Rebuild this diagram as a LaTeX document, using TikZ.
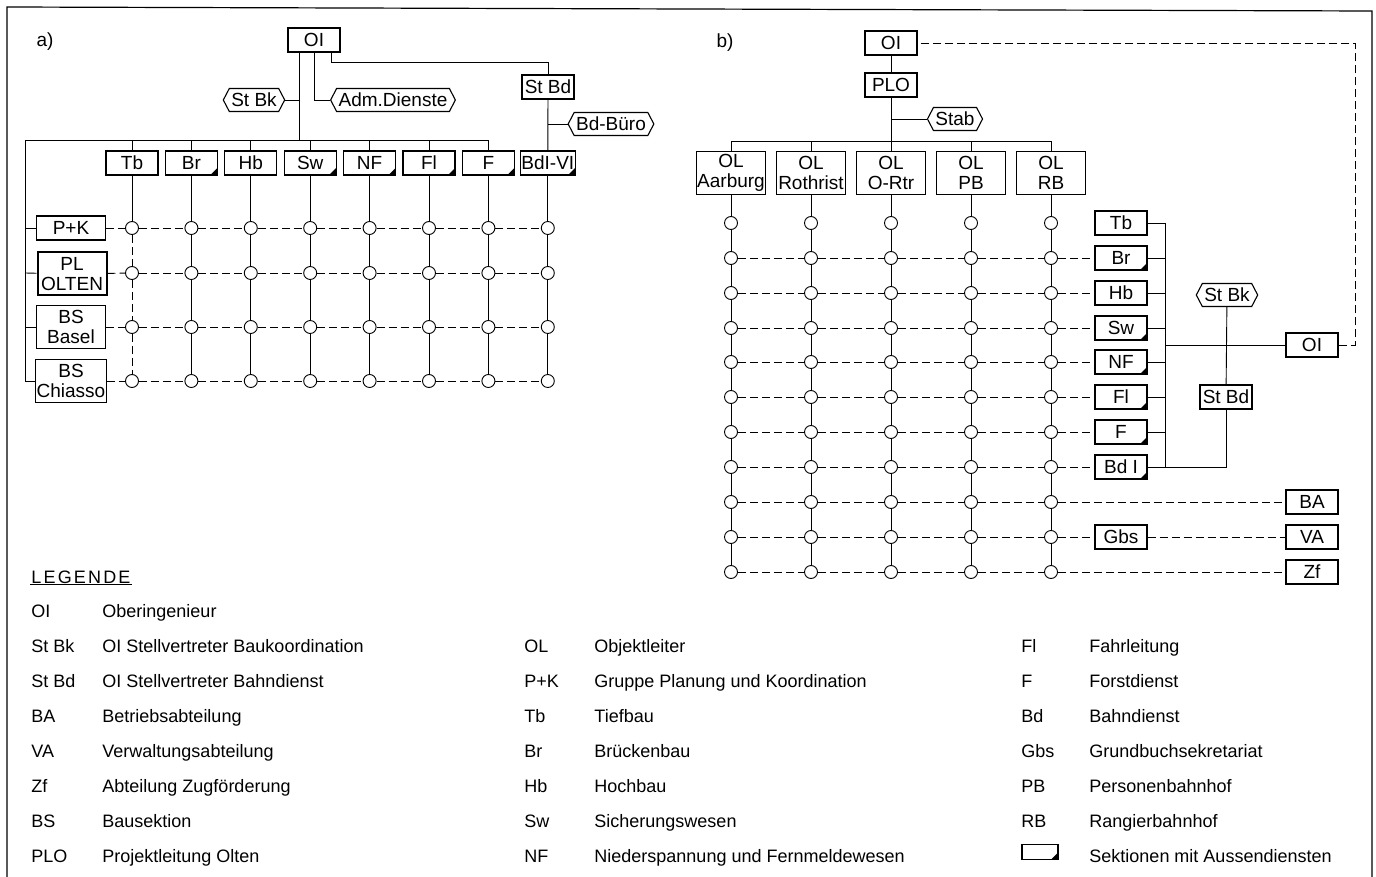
\documentclass[tikz,border=0pt]{standalone}
\usepackage{fontspec}
\setmainfont{Liberation Sans}
\usetikzlibrary{shapes.symbols}
\newcommand{\orgfont}{\fontsize{18}{20}\selectfont}
\newcommand{\boxfont}{\fontsize{19}{20}\selectfont}

\begin{document}
\begin{tikzpicture}[
 x=1pt, y=-1pt, font=\orgfont, line width=0.9pt,
 box/.style={draw, line width=1.1pt, fill=white, align=center, inner sep=1pt, minimum width=52pt, minimum height=24pt, font=\boxfont},
 tallbox/.style={box, minimum width=69pt, minimum height=43pt},
 leitung/.style={line width=2pt},
 plain/.style={},
 aussen/.style={path picture={\fill[black] ([xshift=-7pt]path picture bounding box.south east) -- (path picture bounding box.south east) -- ([yshift=7pt]path picture bounding box.south east) -- cycle;}},
 stab/.style={draw, line width=1.1pt, fill=white, shape=signal, signal to=west and east, signal pointer angle=125, inner sep=2pt, minimum height=23pt, font=\boxfont},
 knot/.style={draw, circle, fill=white, inner sep=0pt, minimum size=13pt},
 link/.style={dash pattern=on 8pt off 4pt},
 legk/.style={anchor=base west, inner sep=0pt}]
\useasboundingbox (0,0) rectangle (1376,877);
\draw[line width=1.2pt] (7,877) -- (7,7) -- (1372,11) -- (1372,877);

% a) Organisation
\node[font=\boxfont] (alabel) at (45,42) {a)};
\node[box] (aOI) at (314,40) {OI};
\node[stab] (aStBk) at (254,100) {St Bk};
\node[stab] (aAdm) at (393,100) {Adm.Dienste};
\node[box] (aStBd) at (548,87) {St Bd};
\node[stab] (aBuero) at (611,124) {Bd-Büro};
\foreach \nm/\txt/\st [count=\i] in {Tb/Tb/plain, Br/Br/aussen, Hb/Hb/plain, Sw/Sw/aussen, NF/NF/aussen, Fl/Fl/aussen, F/F/aussen, Bd/BdI-VI/aussen}
  \node[box,\st] (a\nm) at ({132+59.4*(\i-1)},163) {\txt};
\node[box, minimum width=69pt] (aPK) at (71,228) {P+K};
\node[tallbox, leitung] (aPL) at (72,274) {PL\\OLTEN};
\node[tallbox] (aBSB) at (71,327) {BS\\Basel};
\node[tallbox] (aBSC) at (71,381) {BS\\Chiasso};
\foreach \y [count=\j] in {228,273,327,381}
  \foreach \i in {1,...,8}
    \node[knot] (a-\i-\j) at ({132+59.4*(\i-1)},\y) {};

\coordinate (aL) at (25,140);
\coordinate (aj) at (299,140);
\coordinate (aStk) at (548,62);
\draw (aOI.south -| aj) -- (aj);
\draw (aL) -- (aF.north |- aL);
\draw (aL) -- (aL |- aBSC);
\draw (aStBk.east) -- (aStBk.east -| aj);
\draw (aOI.south) |- (aAdm.west);
\draw ([xshift=17pt]aOI.south) |- (aStk) -- (aStBd.north);
\draw (aStBd) -- (aBd);
\draw (aStBd.south |- aBuero) -- (aBuero.west);
\foreach \nm in {Tb,Br,Hb,Sw,NF,Fl,F}
  \draw (a\nm.north) -- (a\nm.north |- aL);
\foreach \nm [count=\i] in {Tb,Br,Hb,Sw,NF,Fl,F,Bd}
  \draw (a\nm) -- (a-\i-1);
\foreach \i in {2,...,8}
  \foreach \j/\k in {1/2,2/3,3/4}
    \draw (a-\i-\j) -- (a-\i-\k);
\foreach \j/\k in {1/2,2/3,3/4}
  \draw[link] (a-1-\j) -- (a-1-\k);
\foreach \r [count=\j] in {PK,PL,BSB,BSC} {
  \draw (aL |- a-1-\j) -- (a\r);
  \draw[link] (a\r) -- (a-1-\j);
  \foreach \i/\k in {1/2,2/3,3/4,4/5,5/6,6/7,7/8}
    \draw[link] (a-\i-\j) -- (a-\k-\j);
}

% b) Projektleitung
\node[font=\boxfont] (blabel) at (725,43) {b)};
\node[box] (bOI) at (891,43) {OI};
\node[box, leitung] (bPLO) at (891,85) {PLO};
\node[stab] (bStab) at (955,119) {Stab};
\foreach \txt [count=\i] in {Aarburg,Rothrist,O-Rtr,PB,RB}
  \node[tallbox] (bOL\i) at ({731+80*(\i-1)},173) {OL\\\txt};
\foreach \y [count=\j] in {223,258,293,328,362,397,432,467,502,537,572}
  \foreach \i in {1,...,5}
    \node[knot] (b-\i-\j) at ({731+80*(\i-1)},\y) {};
\foreach \nm/\txt/\st [count=\j] in {Tb/Tb/plain, Br/Br/aussen, Hb/Hb/plain, Sw/Sw/aussen, NF/NF/aussen, Fl/Fl/aussen, F/F/aussen, Bd/Bd I/aussen}
  \node[box,\st] (b\nm) at (b-5-\j -| 1121,0) {\txt};
\node[box] (bGbs) at (1121,537) {Gbs};
\node[box] (bOIr) at (1312,345) {OI};
\node[box] (bBA) at (1312,502) {BA};
\node[box] (bVA) at (1312,537) {VA};
\node[box] (bZf) at (1312,572) {Zf};
\node[stab] (bStBk) at (1227,295) {St Bk};
\node[box] (bStBd) at (1226,397) {St Bd};

\coordinate (bj) at (891,141);
\coordinate (bk) at (1165,223);
\coordinate (bdr) at (1355,43);
\draw (bOI) -- (bPLO);
\draw (bPLO.south) -- (bj);
\draw (bPLO.south |- bStab) -- (bStab.west);
\draw (bOL1.north |- bj) -- (bOL5.north |- bj);
\foreach \i in {1,...,5} {
  \draw (bOL\i.north) -- (bOL\i.north |- bj);
  \draw (bOL\i) -- (b-\i-1);
  \foreach \j/\k in {1/2,2/3,3/4,4/5,5/6,6/7,7/8,8/9,9/10,10/11}
    \draw (b-\i-\j) -- (b-\i-\k);
}
\foreach \j in {2,...,11}
  \foreach \i/\k in {1/2,2/3,3/4,4/5}
    \draw[link] (b-\i-\j) -- (b-\k-\j);
\foreach \nm [count=\j from 2] in {Br,Hb,Sw,NF,Fl,F,Bd}
  \draw[link] (b-5-\j) -- (b\nm);
\draw[link] (b-5-9) -- (bBA);
\draw[link] (b-5-10) -- (bGbs) -- (bVA);
\draw[link] (b-5-11) -- (bZf);
\foreach \nm in {Tb,Br,Hb,Sw,NF,Fl,F}
  \draw (b\nm.east) -- (b\nm.east -| bk);
\draw (bk) -- (bk |- bBd.east);
\draw (bBd.east) -| (bStBd.south);
\draw (bk |- bOIr.west) -- (bOIr.west);
\draw (bStBk) -- (bStBd);
\draw[link] (bOIr.east) -| (bdr) -- (bOI.east);

% Legende
\node[anchor=base west, inner sep=1pt] (lgtitle) at (30,583) {\addfontfeatures{LetterSpace=12}LEGENDE};
\draw (lgtitle.south west) -- (lgtitle.south east);
\foreach \k/\txt [count=\i] in {OI/Oberingenieur, St Bk/OI Stellvertreter Baukoordination, St Bd/OI Stellvertreter Bahndienst, BA/Betriebsabteilung, VA/Verwaltungsabteilung, Zf/Abteilung Zugförderung, BS/Bausektion, PLO/Projektleitung Olten} {
  \node[legk] (lk1-\i) at (31,{617+35*(\i-1)}) {\k};
  \node[legk] (lt1-\i) at (102,{617+35*(\i-1)}) {\txt};
}
\foreach \k/\txt [count=\i] in {OL/Objektleiter, P+K/Gruppe Planung und Koordination, Tb/Tiefbau, Br/Brückenbau, Hb/Hochbau, Sw/Sicherungswesen, NF/Niederspannung und Fernmeldewesen} {
  \node[legk] (lk2-\i) at (524,{652+35*(\i-1)}) {\k};
  \node[legk] (lt2-\i) at (594,{652+35*(\i-1)}) {\txt};
}
\foreach \k/\txt [count=\i] in {Fl/Fahrleitung, F/Forstdienst, Bd/Bahndienst, Gbs/Grundbuchsekretariat, PB/Personenbahnhof, RB/Rangierbahnhof} {
  \node[legk] (lk3-\i) at (1021,{652+35*(\i-1)}) {\k};
  \node[legk] (lt3-\i) at (1089,{652+35*(\i-1)}) {\txt};
}
\node[box, aussen, minimum width=36pt, minimum height=15pt] (lgsym) at (1040,852) {};
\node[legk] (lt3-7) at (1089,862) {Sektionen mit Aussendiensten};
\end{tikzpicture}
\end{document}
